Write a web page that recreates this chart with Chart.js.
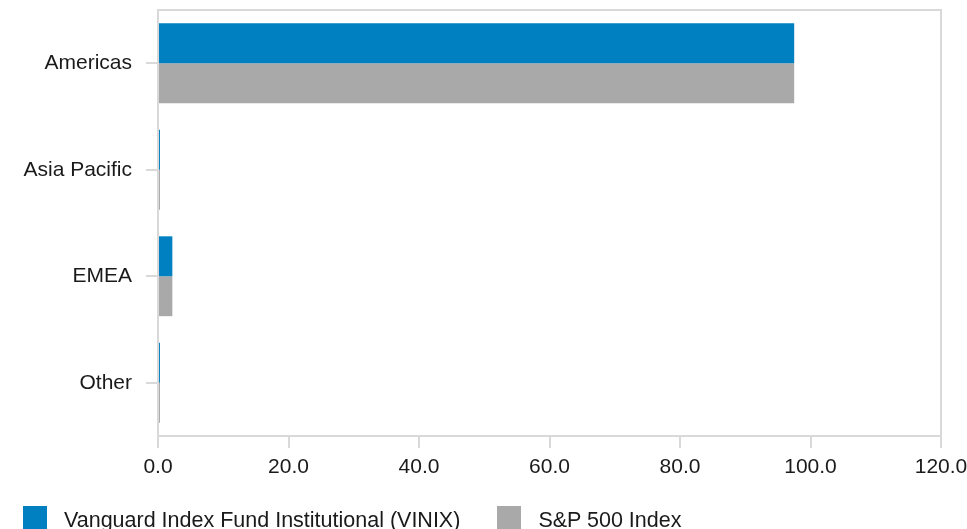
<!DOCTYPE html>
<html>
<head>
<meta charset="utf-8">
<script src="https://cdn.jsdelivr.net/npm/chart.js@4/dist/chart.umd.min.js"></script>
<style>
  html, body { margin: 0; padding: 0; background: #fff; }
  #wrap { width: 967px; height: 529px; position: relative; overflow: hidden; }
  #legend { position: absolute; left: 23px; top: 506px; display: flex;
            font: 21.5px "Liberation Sans", Arial, sans-serif; color: #1a1a1a; }
  .item { display: flex; align-items: flex-start; margin-right: 37px; }
  .swatch { width: 24px; height: 24px; margin-right: 17px; }
  .item span { line-height: 24px; position: relative; top: 2px; }
</style>
</head>
<body>
<div id="wrap"><canvas id="chart"></canvas><div id="legend"></div></div>
<script>
// === Data ===
const regions = ['Americas', 'Asia Pacific', 'EMEA', 'Other'];
const fundValues = [97.5, 0.3, 2.2, 0.3];
const indexValues = [97.5, 0.3, 2.2, 0.3];
const seriesNames = ['Vanguard Index Fund Institutional (VINIX)', 'S&P 500 Index'];
const xTicks = [0, 20, 40, 60, 80, 100, 120];

const FRAME = '#d9d9d9';
const COLORS = ['#0080c0', '#a9a9a9'];

// frame around the plot area
const framePlugin = {
  id: 'frame',
  afterDraw(chart) {
    const { ctx, chartArea: a } = chart;
    ctx.save();
    ctx.strokeStyle = FRAME;
    ctx.lineWidth = 2;
    ctx.strokeRect(a.left, a.top, a.right - a.left, a.bottom - a.top);
    ctx.restore();
  }
};

Chart.defaults.font.family = '"Liberation Sans", Arial, sans-serif';
Chart.defaults.font.size = 21;
Chart.defaults.color = '#1a1a1a';

const chart = new Chart(document.getElementById('chart'), {
  type: 'bar',
  data: {
    labels: regions,
    datasets: [fundValues, indexValues].map((d, i) => ({
      label: seriesNames[i],
      data: d,
      backgroundColor: COLORS[i],
      categoryPercentage: 0.75,
      barPercentage: 1
    }))
  },
  options: {
    indexAxis: 'y',
    responsive: true,
    maintainAspectRatio: false,
    animation: false,
    layout: { padding: { top: 10, right: 26, left: 0, bottom: 45 } },
    scales: {
      x: {
        min: xTicks[0],
        max: xTicks[xTicks.length - 1],
        afterBuildTicks: s => { s.ticks = xTicks.map(v => ({ value: v })); },
        border: { display: false },
        grid: { drawOnChartArea: false, color: FRAME, lineWidth: 2, tickLength: 12 },
        ticks: { padding: 7, maxRotation: 0, callback: v => v.toFixed(1) },
        afterFit: s => { s.height = 48; s.paddingLeft = 0; s.paddingRight = 0; }
      },
      y: {
        border: { display: false },
        grid: { offset: false, drawOnChartArea: false, color: FRAME, lineWidth: 2, tickLength: 12 },
        ticks: { padding: 14 },
        afterFit: s => { s.width = 158; s.paddingTop = 0; s.paddingBottom = 0; }
      }
    },
    plugins: {
      tooltip: { enabled: false },
      legend: { display: false }
    }
  },
  plugins: [framePlugin]
});

// HTML legend built from the datasets
const legendEl = document.getElementById('legend');
chart.data.datasets.forEach(ds => {
  const item = document.createElement('div');
  item.className = 'item';
  const sw = document.createElement('div');
  sw.className = 'swatch';
  sw.style.background = ds.backgroundColor;
  const txt = document.createElement('span');
  txt.textContent = ds.label;
  item.appendChild(sw);
  item.appendChild(txt);
  legendEl.appendChild(item);
});
</script>
</body>
</html>
